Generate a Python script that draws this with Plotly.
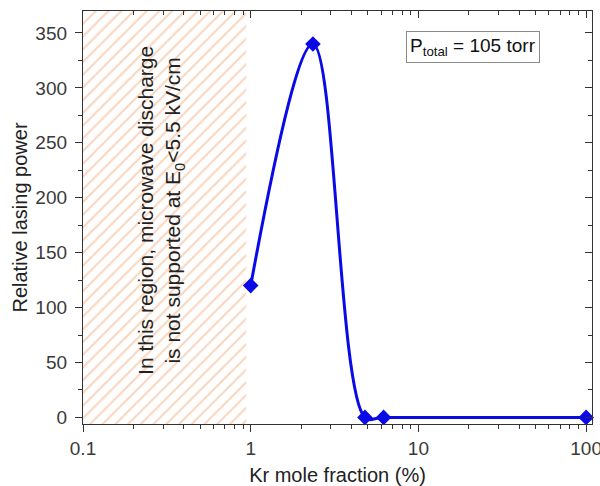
import plotly.graph_objects as go

# Measured relative lasing power vs Kr mole fraction (P_total = 105 torr)
kr_fraction = [1.0, 2.35, 4.8, 6.2, 100.0]
lasing_power = [120, 340, 0, 0, 0]

# Region where the microwave discharge cannot be sustained
no_discharge_x = [0.1, 0.94, 0.94, 0.1, 0.1]
no_discharge_y = [-6, -6, 370, 370, -6]

x_range_log = [-1, 2.035]
y_range = [-6, 370]
y_ticks = [0, 50, 100, 150, 200, 250, 300, 350]
x_ticks = [0.1, 1, 10, 100]
x_ticklabels = ["0.1", "1", "10", "100"]
x_minor_ticks = [m * d for d in (0.1, 1, 10) for m in range(2, 10)]

FONT = "Liberation Sans, Arial, sans-serif"
AXIS_COLOR = "#333333"
BLUE = "#0a0ae6"

fig = go.Figure()

fig.add_trace(go.Scatter(
    x=no_discharge_x, y=no_discharge_y,
    mode="lines", line=dict(width=0),
    fill="toself", fillcolor="rgba(255,255,255,0)",
    fillpattern=dict(shape="/", fgcolor="#f2ac7c", bgcolor="white",
                     size=9, solidity=0.22),
    hoverinfo="skip", showlegend=False,
))

fig.add_trace(go.Scatter(
    x=kr_fraction, y=lasing_power,
    mode="lines+markers",
    line=dict(color=BLUE, width=3, shape="spline", smoothing=1.0),
    marker=dict(symbol="diamond", size=12, color=BLUE),
    cliponaxis=False, showlegend=False,
))

# Invisible trace to carry the mirrored top/right axes
fig.add_trace(go.Scatter(
    x=kr_fraction, y=lasing_power, xaxis="x2", yaxis="y2",
    mode="markers", marker=dict(opacity=0), hoverinfo="skip",
    showlegend=False,
))

tick_font = dict(family=FONT, size=19, color="#3a3a3a")
title_font = dict(family=FONT, size=20, color="#222222")

fig.update_layout(
    width=600, height=486,
    margin=dict(l=83, r=8, t=11, b=62, autoexpand=False),
    paper_bgcolor="white", plot_bgcolor="white",
    font=dict(family=FONT),
    xaxis=dict(
        type="log", range=x_range_log, automargin=False,
        tickvals=x_ticks, ticktext=x_ticklabels, ticklabeloverflow="allow",
        ticks="outside", ticklen=7, tickwidth=1.2, tickcolor=AXIS_COLOR,
        minor=dict(tickvals=x_minor_ticks, ticks="outside", ticklen=4,
                   tickwidth=1, tickcolor=AXIS_COLOR, showgrid=False),
        showline=True, linecolor=AXIS_COLOR, linewidth=1.3,
        showgrid=False, zeroline=False,
        tickfont=tick_font,
        title=dict(text="Kr mole fraction (%)", font=title_font, standoff=12),
    ),
    yaxis=dict(
        range=y_range, tickvals=y_ticks, ticklabelstandoff=4, automargin=False,
        ticks="outside", ticklen=7, tickwidth=1.2, tickcolor=AXIS_COLOR,
        minor=dict(dtick=25, tick0=0, ticks="outside", ticklen=4, tickwidth=1,
                   tickcolor=AXIS_COLOR, showgrid=False),
        showline=True, linecolor=AXIS_COLOR, linewidth=1.3,
        showgrid=False, zeroline=False,
        tickfont=tick_font,
        title=dict(text="Relative lasing power", font=title_font, standoff=2),
    ),
    xaxis2=dict(
        type="log", range=x_range_log, overlaying="x", side="top",
        automargin=False,
        tickvals=x_ticks, showticklabels=False,
        ticks="inside", ticklen=7, tickwidth=1.2, tickcolor=AXIS_COLOR,
        minor=dict(tickvals=x_minor_ticks, ticks="inside", ticklen=4,
                   tickwidth=1, tickcolor=AXIS_COLOR, showgrid=False),
        showline=True, linecolor=AXIS_COLOR, linewidth=1.3,
        showgrid=False, zeroline=False,
    ),
    yaxis2=dict(
        range=y_range, overlaying="y", side="right", automargin=False,
        tickvals=y_ticks, showticklabels=False,
        ticks="inside", ticklen=7, tickwidth=1.2, tickcolor=AXIS_COLOR,
        minor=dict(dtick=25, tick0=0, ticks="inside", ticklen=4, tickwidth=1,
                   tickcolor=AXIS_COLOR, showgrid=False),
        showline=True, linecolor=AXIS_COLOR, linewidth=1.3,
        showgrid=False, zeroline=False,
    ),
    annotations=[
        dict(
            xref="paper", yref="paper", x=0.153, y=0.518,
            xanchor="center", yanchor="middle",
            text="In this region, microwave discharge<br>"
                 "is not supported at E<sub>0</sub>&lt;5.5 kV/cm",
            textangle=-90, showarrow=False, align="center",
            font=dict(family=FONT, size=21, color="#222222"),
        ),
        dict(
            xref="paper", yref="paper", x=0.767, y=0.912,
            xanchor="center", yanchor="middle",
            text="P<sub>total</sub> = 105 torr",
            showarrow=False, bgcolor="white",
            bordercolor="#8a8a8a", borderwidth=1, borderpad=3,
            font=dict(family=FONT, size=19, color="#111111"),
        ),
    ],
)

fig.write_html("out.html")
